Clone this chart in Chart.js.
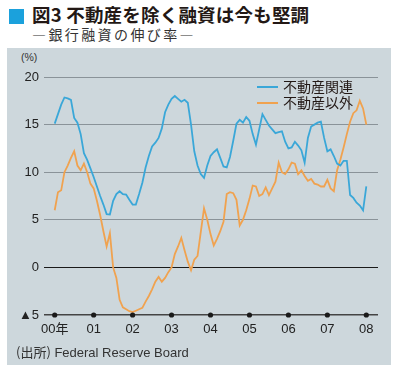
<!DOCTYPE html>
<html>
<head>
<meta charset="utf-8">
<script src="https://cdn.jsdelivr.net/npm/chart.js@4.4.1/dist/chart.umd.min.js"></script>
<style>
  html, body { margin: 0; padding: 0; background: #fff; }
  #wrap { position: relative; width: 400px; height: 375px; overflow: hidden; font-family: "Noto Sans CJK JP", "Liberation Sans", sans-serif; }
  #panel { position: absolute; left: 7px; top: 48px; width: 384px; height: 317px; background: #cdd7dc; }
  #sq { position: absolute; left: 9px; top: 9px; width: 15px; height: 15px; background: #1ba1dc; }
  #title { position: absolute; left: 32px; top: 1px; font-size: 18.5px; font-weight: bold; color: #231815; white-space: nowrap; letter-spacing: 0.2px; }
  #subtitle { position: absolute; left: 32px; top: 24px; font-size: 14px; color: #333; white-space: nowrap; letter-spacing: 2.4px; }
  #unit { position: absolute; left: 21px; top: 51px; font-size: 10.5px; color: #333; font-family: "Liberation Sans", sans-serif; }
  #source { position: absolute; left: 16px; top: 342px; font-size: 13px; color: #333; white-space: nowrap; font-family: "Liberation Sans", "Noto Sans CJK JP", sans-serif; }
  #source .jp { font-family: "Noto Sans CJK JP", sans-serif; }
  canvas { position: absolute; left: 0; top: 0; }
  .leg { position: absolute; left: 257px; font-size: 14px; line-height: 16px; color: #231815; white-space: nowrap; }
  .leg span { display: inline-block; width: 21px; height: 2px; vertical-align: middle; margin-right: 5px; position: relative; top: -1px; }
</style>
</head>
<body>
<div id="wrap">
  <div id="panel"></div>
  <div id="sq"></div>
  <div id="title">図3 不動産を除く融資は今も堅調</div>
  <div id="subtitle">―銀行融資の伸び率―</div>
  <div id="unit">(%)</div>
  <canvas id="c" width="400" height="375"></canvas>
  <div class="leg" id="leg1" style="top:78px"><span style="background:#3aa7d8"></span>不動産関連</div>
  <div class="leg" id="leg2" style="top:94px"><span style="background:#f0a24f"></span>不動産以外</div>
  <div id="source"><span class="jp">(出所)</span> Federal Reserve Board</div>
</div>
<script>
// Monthly, Jan 2000 .. Jan 2008 (index 0..96)
const seriesNames = ["不動産関連", "不動産以外"];
const yearLabels = ["00年", "01", "02", "03", "04", "05", "06", "07", "08"];
const realEstate = [
  15.1, 16.1, 17.1, 17.85, 17.75, 17.6, 15.7, 15.2, 14.0, 12.0, 11.3, 10.4,
  9.5, 8.5, 7.5, 6.6, 5.6, 5.55, 7.0, 7.7, 8.0, 7.7, 7.65, 7.1,
  6.6, 6.6, 7.7, 8.9, 10.5, 11.7, 12.7, 13.1, 13.6, 14.6, 16.3, 17.1,
  17.7, 18.0, 17.7, 17.4, 17.6, 17.3, 15.0, 12.2, 10.7, 9.8, 9.4, 10.7,
  11.7, 12.1, 12.4, 11.5, 10.6, 10.5, 11.6, 13.3, 15.1, 15.5, 15.2, 15.8,
  15.4, 14.0, 12.9, 14.5, 16.1, 15.5, 14.9, 14.5, 14.1, 14.2, 14.3, 13.2,
  12.5, 12.6, 13.2, 12.8, 12.3, 11.0, 13.6, 14.8, 15.0, 15.2, 15.3, 13.6,
  12.2, 12.4, 11.7, 10.9, 10.7, 11.2, 11.2, 7.6, 7.3, 6.8, 6.5, 6.0,
  8.5
];
const nonRealEstate = [
  6.0, 7.9, 8.1, 10.0, 10.7, 11.5, 12.2, 10.7, 10.2, 10.9, 10.0, 8.8,
  8.3, 7.0, 5.5, 3.8, 2.2, 3.6, 0.0, -1.1, -3.4, -4.2, -4.4, -4.6,
  -4.7, -4.55, -4.4, -4.25, -3.6, -3.0, -2.3, -1.5, -1.0, -1.5, -1.1, -0.5,
  0.0, 1.4, 2.2, 3.1, 1.8, 0.6, -0.3, 0.8, 1.2, 3.7, 6.2, 5.0,
  3.5, 2.3, 3.0, 3.8, 4.8, 7.7, 7.9, 7.8, 7.1, 4.4, 5.0, 6.0,
  7.2, 8.6, 8.5, 7.5, 7.7, 8.4, 7.6, 8.3, 9.0, 11.0, 10.0, 9.8,
  10.3, 11.0, 10.9, 9.8, 10.2, 9.6, 9.1, 9.3, 8.8, 8.7, 8.5, 8.5,
  9.2, 8.3, 8.0, 10.2, 11.3, 12.6, 14.0, 15.3, 16.2, 16.5, 17.5, 16.7,
  15.0
];
const yTicks = [-5, 0, 5, 10, 15, 20];

const toPts = arr => arr.map((v, i) => ({ x: i, y: v }));

const dotsPlugin = {
  id: 'yearDots',
  afterDatasetsDraw(chart) {
    const ctx = chart.ctx, xs = chart.scales.x, ys = chart.scales.y;
    const y = ys.getPixelForValue(-5);
    ctx.save();
    ctx.fillStyle = '#1a1a1a';
    yearLabels.forEach((_, i) => {
      ctx.beginPath();
      ctx.arc(xs.getPixelForValue(i * 12), y, 2.6, 0, Math.PI * 2);
      ctx.fill();
    });
    ctx.restore();
  }
};

new Chart(document.getElementById('c'), {
  type: 'line',
  data: {
    datasets: [
      { label: seriesNames[0], data: toPts(realEstate), borderColor: '#3aa7d8', borderWidth: 1.8, pointRadius: 0, tension: 0, clip: false },
      { label: seriesNames[1], data: toPts(nonRealEstate), borderColor: '#f0a24f', borderWidth: 1.8, pointRadius: 0, tension: 0, clip: false }
    ]
  },
  options: {
    responsive: false,
    animation: false,
    events: [],
    layout: { padding: { left: 0, right: 22, top: 77, bottom: 0 } },
    plugins: { legend: { display: false }, tooltip: { enabled: false }, title: { display: false } },
    scales: {
      x: {
        type: 'linear', min: -3.3, max: 99.6,
        afterBuildTicks: s => { s.ticks = yearLabels.map((_, i) => ({ value: i * 12 })); },
        afterFit: s => { s.height = 60; },
        grid: { display: false, drawTicks: false },
        border: { display: false },
        ticks: {
          autoSkip: false, maxRotation: 0, padding: 7,
          color: '#222', font: { family: '"Liberation Sans", "Noto Sans CJK JP", sans-serif', size: 13 },
          callback: (v) => yearLabels[Math.round(v / 12)]
        }
      },
      y: {
        min: -5, max: 20,
        afterBuildTicks: s => { s.ticks = yTicks.map(v => ({ value: v })); },
        afterFit: s => { s.width = 44; },
        grid: {
          drawTicks: false,
          color: c => c.tick.value === 0 ? '#1a1a1a' : (c.tick.value === -5 ? '#444' : '#8a9399'),
          lineWidth: c => c.tick.value === -5 ? 1.6 : 1
        },
        border: { display: false },
        ticks: {
          padding: 5, color: '#222',
          font: { family: '"Liberation Sans", "Noto Sans CJK JP", sans-serif', size: 13 },
          callback: v => v < 0 ? '▲' + Math.abs(v) : String(v)
        }
      }
    }
  },
  plugins: [dotsPlugin]
});
</script>
</body>
</html>
